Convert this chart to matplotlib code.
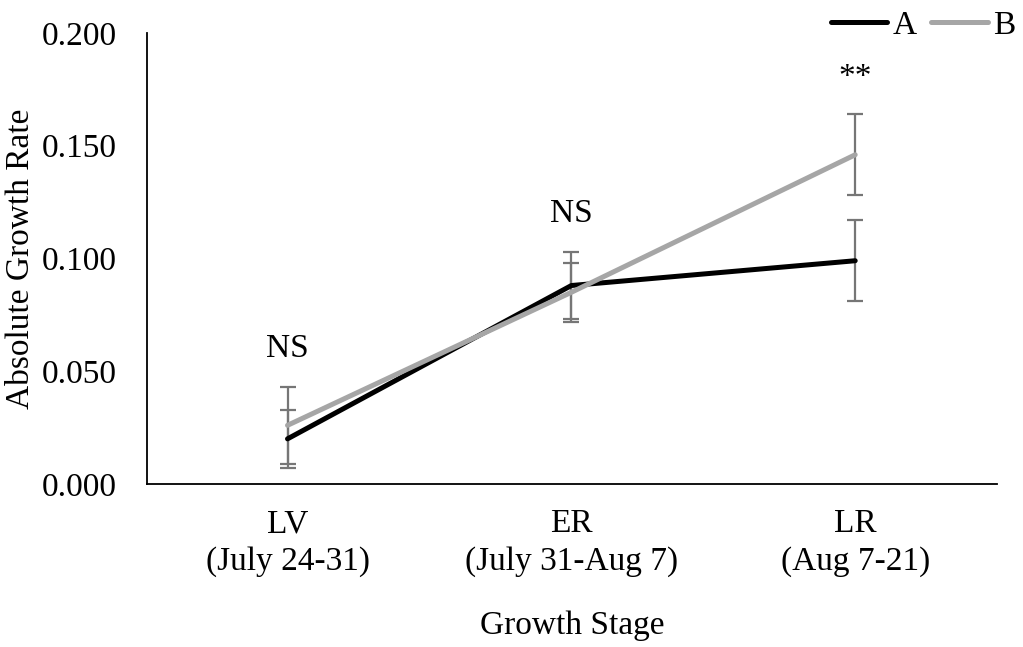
import numpy as np
import matplotlib.pyplot as plt

stages = ["LV\n(July 24-31)", "ER\n(July 31-Aug 7)", "LR\n(Aug 7-21)"]
a_vals = [0.020, 0.088, 0.099]
a_err = [0.013, 0.015, 0.018]
b_vals = [0.026, 0.085, 0.146]
b_err = [0.017, 0.013, 0.018]
sig_labels = ["NS", "NS", "**"]
sig_y = [0.060, 0.120, 0.180]

plt.rcParams['font.family'] = ['Liberation Serif', 'DejaVu Serif']

fig = plt.figure(figsize=(10.23, 6.47), dpi=100)
ax = fig.add_axes([0.1437, 0.252, 0.831, 0.697])

x = np.arange(len(stages))
err_col = '#767676'
ax.errorbar(x, a_vals, yerr=a_err, fmt='none', ecolor=err_col, elinewidth=1.6,
            capsize=6, capthick=1.6, zorder=1)
ax.errorbar(x, b_vals, yerr=b_err, fmt='none', ecolor=err_col, elinewidth=1.6,
            capsize=6, capthick=1.6, zorder=1)
ax.plot(x, a_vals, color='black', lw=3.6, label='A', zorder=2, solid_capstyle='round')
ax.plot(x, b_vals, color='#a6a6a6', lw=3.6, label='B', zorder=3, solid_capstyle='round')

for xi, lab, yy in zip(x, sig_labels, sig_y):
    ax.text(xi, yy, lab, ha='center', va='center', fontsize=24)

ax.set_xlim(-0.495, 2.5)
ax.set_ylim(0, 0.2)
ax.set_yticks(np.arange(0, 0.201, 0.05))
ax.set_yticklabels([f"{v:.3f}" for v in np.arange(0, 0.201, 0.05)])
ax.set_xticks(x)
ax.set_xticklabels(stages, linespacing=1.3)
ax.tick_params(axis='y', length=0, pad=22, labelsize=24)
ax.tick_params(axis='x', length=0, pad=18, labelsize=24)

for s in ['top', 'right']:
    ax.spines[s].set_visible(False)
ax.spines['left'].set_linewidth(1.3)
ax.spines['bottom'].set_linewidth(1.3)

ax.set_xlabel("Growth Stage", fontsize=24, labelpad=24)
ax.set_ylabel("Absolute Growth Rate", fontsize=24, labelpad=4)

ax.legend(loc='upper right', bbox_to_anchor=(1.037, 1.08), ncol=2, frameon=False,
          fontsize=24, handlelength=1.7, handletextpad=0.15, columnspacing=0.45,
          borderaxespad=0)

fig.savefig("out.png", dpi=100)
